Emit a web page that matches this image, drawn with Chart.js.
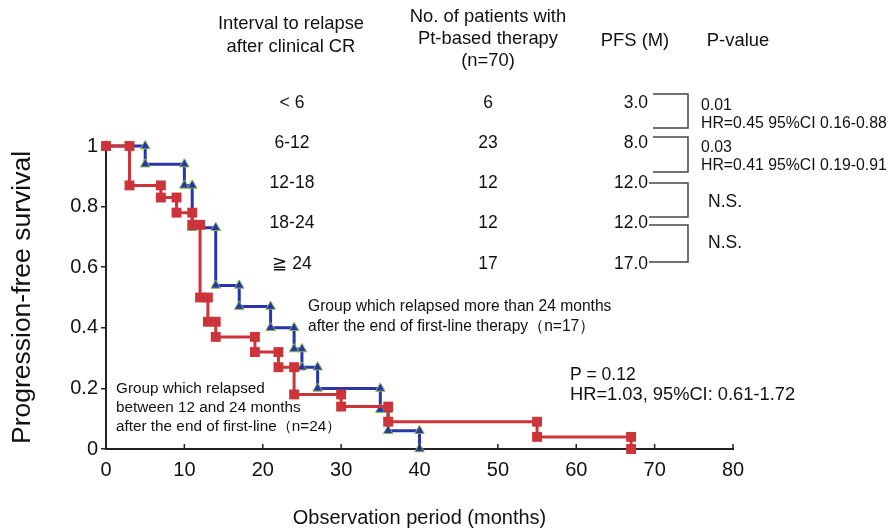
<!DOCTYPE html>
<html><head><meta charset="utf-8">
<script src="https://cdn.jsdelivr.net/npm/chart.js@4/dist/chart.umd.min.js"></script>
<style>html,body{margin:0;padding:0;background:#fff}canvas{display:block}</style>
</head><body>
<canvas id="c" width="889" height="531"></canvas>
<script>
// ---- data ----
const redTimes = [0, 3, 7, 9, 11, 12, 13, 14, 19, 22, 24, 30, 36, 55, 67];
const redSurvival = [1, 0.87, 0.83, 0.78, 0.74, 0.50, 0.42, 0.37, 0.32, 0.27, 0.18, 0.14, 0.09, 0.04, 0];
const blueTimes = [0, 5, 10, 11, 14, 17, 21, 24, 25, 27, 35, 36, 40];
const blueSurvival = [1, 0.94, 0.87, 0.73, 0.54, 0.47, 0.40, 0.33, 0.27, 0.20, 0.13, 0.06, 0];
const xTickLabels = ['0', '10', '20', '30', '40', '50', '60', '70', '80'];
const yTickLabels = ['0', '0.2', '0.4', '0.6', '0.8', '1'];
const intervalLabels = ['< 6', '6-12', '12-18', '18-24', '\u2267 24'];
const patientCounts = ['6', '23', '12', '12', '17'];
const pfsLabels = ['3.0', '8.0', '12.0', '12.0', '17.0'];
const pValueLabels = [['0.01', 'HR=0.45 95%CI 0.16-0.88'], ['0.03', 'HR=0.41 95%CI 0.19-0.91'], ['N.S.'], ['N.S.']];
const groupLabelLong = ['Group which relapsed more than 24 months', 'after the end of first-line therapy\uff08n=17\uff09'];
const groupLabelMid = ['Group which relapsed', 'between 12 and 24 months', 'after the end of first-line\uff08n=24\uff09'];
const statsLabels = ['P = 0.12', 'HR=1.03, 95%CI: 0.61-1.72'];

function stepPoints(times, surv) {
  const pts = [{x: times[0], y: surv[0]}];
  for (let i = 1; i < times.length; i++) {
    pts.push({x: times[i], y: surv[i - 1]});
    pts.push({x: times[i], y: surv[i]});
  }
  return pts;
}

const FONT = "'Liberation Sans', Arial, sans-serif";
const RED = '#cc3439';
const BLUE = '#2a34ad';

const decor = {
  id: 'decor',
  afterDraw(chart) {
    const ctx = chart.ctx;
    const xs = chart.scales.x;
    const ys = chart.scales.y;
    ctx.save();
    // inward x ticks
    ctx.strokeStyle = '#222';
    ctx.lineWidth = 1.5;
    for (let i = 1; i < xTickLabels.length; i++) {
      const px = xs.getPixelForValue(Number(xTickLabels[i]));
      ctx.beginPath();
      ctx.moveTo(px, ys.bottom);
      ctx.lineTo(px, ys.bottom - 5);
      ctx.stroke();
    }
    ctx.fillStyle = '#111';
    // table header
    ctx.textAlign = 'center';
    ctx.textBaseline = 'middle';
    ctx.font = '18.4px ' + FONT;
    ctx.fillText('Interval to relapse', 291, 24);
    ctx.fillText('after clinical CR', 291, 47);
    ctx.fillText('No. of patients with', 488, 17);
    ctx.fillText('Pt-based therapy', 488, 39);
    ctx.fillText('(n=70)', 488, 61);
    ctx.fillText('PFS (M)', 635, 41);
    ctx.fillText('P-value', 738, 41);
    // table rows
    const rowY = [103, 143, 183, 223, 264];
    ctx.font = '17.5px ' + FONT;
    for (let i = 0; i < rowY.length; i++) {
      ctx.textAlign = 'center';
      ctx.fillText(intervalLabels[i], 292, rowY[i]);
      ctx.fillText(patientCounts[i], 488, rowY[i]);
      ctx.textAlign = 'right';
      ctx.fillText(pfsLabels[i], 648, rowY[i]);
    }
    // brackets
    const br = [[653, 94, 128], [653, 137, 172], [649, 183, 217], [649, 225, 262]];
    ctx.strokeStyle = '#444';
    ctx.lineWidth = 1.5;
    br.forEach(b => {
      ctx.beginPath();
      ctx.moveTo(b[0], b[1]);
      ctx.lineTo(688, b[1]);
      ctx.lineTo(688, b[2]);
      ctx.lineTo(b[0], b[2]);
      ctx.stroke();
    });
    ctx.textAlign = 'left';
    ctx.font = '15.8px ' + FONT;
    ctx.fillText(pValueLabels[0][0], 701, 106);
    ctx.fillText(pValueLabels[0][1], 701, 124);
    ctx.fillText(pValueLabels[1][0], 701, 148);
    ctx.fillText(pValueLabels[1][1], 701, 166);
    ctx.font = '17.5px ' + FONT;
    ctx.fillText(pValueLabels[2][0], 708, 202);
    ctx.fillText(pValueLabels[3][0], 708, 243);
    // group annotations
    ctx.font = '15.6px ' + FONT;
    ctx.fillText(groupLabelLong[0], 308, 307);
    ctx.fillText(groupLabelLong[1], 308, 327);
    ctx.font = '15.3px ' + FONT;
    ctx.fillText(groupLabelMid[0], 116, 389);
    ctx.fillText(groupLabelMid[1], 116, 408);
    ctx.fillText(groupLabelMid[2], 116, 427);
    ctx.font = '17.5px ' + FONT;
    ctx.fillText(statsLabels[0], 570, 375);
    ctx.font = '18.3px ' + FONT;
    ctx.fillText(statsLabels[1], 570, 395);
    ctx.restore();
  }
};

new Chart(document.getElementById('c'), {
  type: 'line',
  data: {
    datasets: [
      {
        label: '12-24 months (n=24)',
        data: stepPoints(redTimes, redSurvival),
        borderColor: RED,
        backgroundColor: RED,
        borderWidth: 3,
        pointStyle: 'rect',
        pointRadius: 7,
        pointBorderWidth: 0,
        pointBackgroundColor: RED,
        clip: false,
        tension: 0
      },
      {
        label: '>24 months (n=17)',
        data: stepPoints(blueTimes, blueSurvival),
        borderColor: BLUE,
        backgroundColor: BLUE,
        borderWidth: 3,
        pointStyle: 'triangle',
        pointRadius: 5.5,
        pointBorderWidth: 1,
        pointBorderColor: '#7dbb48',
        pointBackgroundColor: BLUE,
        clip: false,
        tension: 0
      }
    ]
  },
  options: {
    responsive: false,
    animation: false,
    layout: {padding: {top: 146, right: 156, left: 0, bottom: 0}},
    plugins: {legend: {display: false}, tooltip: {enabled: false}},
    scales: {
      x: {
        type: 'linear',
        min: 0, max: 80,
        afterFit(s) { s.height = 82; },
        afterBuildTicks(s) { s.ticks = xTickLabels.map(v => ({value: Number(v)})); },
        grid: {drawOnChartArea: false, drawTicks: false},
        border: {display: true, color: '#222', width: 2},
        ticks: {
          padding: 9,
          color: '#111',
          font: {family: FONT, size: 20},
          maxRotation: 0,
          callback: (v, i) => xTickLabels[i]
        },
        title: {display: true, text: 'Observation period (months)', color: '#111',
          font: {family: FONT, size: 20}, padding: {top: 0, bottom: 1}}
      },
      y: {
        min: 0, max: 1,
        afterFit(s) { s.width = 106; },
        afterBuildTicks(s) { s.ticks = yTickLabels.map(v => ({value: Number(v)})); },
        grid: {drawOnChartArea: false, drawTicks: true, tickLength: 5, color: '#222', lineWidth: 1.5},
        border: {display: true, color: '#222', width: 2},
        ticks: {
          padding: 3,
          color: '#111',
          font: {family: FONT, size: 20},
          callback: (v, i) => yTickLabels[i]
        },
        title: {display: true, text: 'Progression-free survival', color: '#111',
          font: {family: FONT, size: 26.5}, padding: {top: 7, bottom: 0}}
      }
    }
  },
  plugins: [decor]
});
</script>
</body></html>
